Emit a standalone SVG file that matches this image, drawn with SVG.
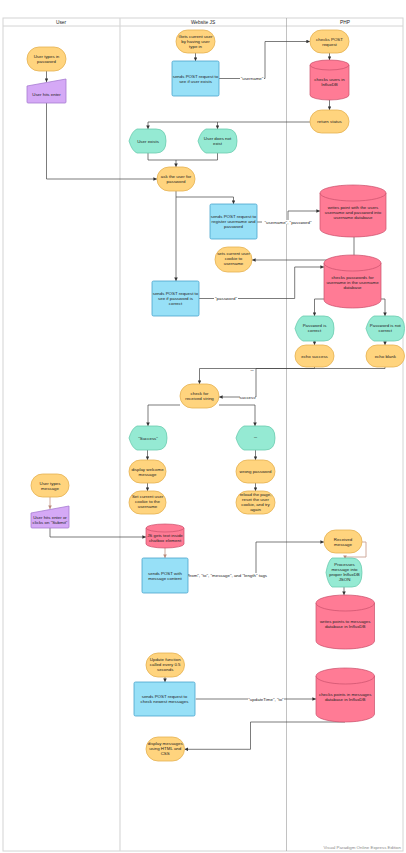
<svg xmlns="http://www.w3.org/2000/svg" width="406" height="853" viewBox="0 0 406 853">
<style>
text{font-family:"Liberation Sans",Arial,sans-serif;font-size:4.4px;fill:#222;text-anchor:middle}
.hd{font-size:4.8px}
.term{fill:#FFD47E;stroke:#E5B152;stroke-width:0.8}
.proc{fill:#97E0F7;stroke:#4AA3CC;stroke-width:0.8}
.cyl{fill:#FF7B95;stroke:#C9506B;stroke-width:0.7}
.disp{fill:#95EAD3;stroke:#6BCBAF;stroke-width:0.8}
.man{fill:#D5A9F6;stroke:#A77CD2;stroke-width:0.8}
.c{fill:none;stroke:#444;stroke-width:0.7}
.b{fill:none;stroke:#C9A092;stroke-width:0.9}
.lbl{fill:#fff}
.ft{font-size:4.4px;fill:#888;text-anchor:end}
</style>
<defs>
<marker id="ah" viewBox="0 0 6 6" refX="6" refY="3" markerWidth="3.6" markerHeight="3.6" markerUnits="userSpaceOnUse" orient="auto"><path d="M0,0 L6,3 L0,6 Z" fill="#333"/></marker>
<marker id="ahb" viewBox="0 0 6 6" refX="6" refY="3" markerWidth="3.6" markerHeight="3.6" markerUnits="userSpaceOnUse" orient="auto"><path d="M0,0 L6,3 L0,6 Z" fill="#B98878"/></marker>
</defs>
<rect width="406" height="853" fill="#fff"/>
<g id="swimlanes">
<rect x="3" y="18" width="400" height="833" fill="none" stroke="#D4D4D4" stroke-width="1"/>
<line x1="3" y1="26" x2="403" y2="26" stroke="#D4D4D4" stroke-width="1"/>
<line x1="120" y1="18" x2="120" y2="851" stroke="#D8D8D8" stroke-width="1.2"/>
<line x1="286.5" y1="18" x2="286.5" y2="851" stroke="#999" stroke-width="0.6"/>
<text class="hd" x="61" y="24">User</text>
<text class="hd" x="203" y="24">Website JS</text>
<text class="hd" x="345" y="24">PHP</text>
</g>
<g id="connectors">
<path class="c" d="M46.5,71 V82" marker-end="url(#ah)"/>
<path class="c" d="M46.5,103 V179 H157" marker-end="url(#ah)"/>
<path class="c" d="M195.5,53 V61" marker-end="url(#ah)"/>
<path class="c" d="M219,78.5 H265 V41.5 H310" marker-end="url(#ah)"/>
<rect class="lbl" x="240" y="76.5" width="24" height="4"/>
<text x="252" y="80">"username"</text>
<path class="c" d="M329.5,53 V60" marker-end="url(#ah)"/>
<path class="c" d="M329.5,100 V110" marker-end="url(#ah)"/>
<path class="c" d="M310,122 H148 V129" marker-end="url(#ah)"/>
<path class="c" d="M217.5,122 V129" marker-end="url(#ah)"/>
<path class="c" d="M148,153 V160 H176 V167" marker-end="url(#ah)"/>
<path class="c" d="M217.5,153 V160 H176"/>
<path class="c" d="M176,191 V281" marker-end="url(#ah)"/>
<path class="c" d="M176,197 H233.5 V204" marker-end="url(#ah)"/>
<path class="c" d="M257,222 H288 V211 H320" marker-end="url(#ah)"/>
<rect class="lbl" x="262" y="220" width="52" height="4"/>
<text x="288" y="223.6">"username", "password"</text>
<path class="c" d="M354,237 V260 H252" marker-end="url(#ah)"/>
<path class="c" d="M199,298.5 H294.7 V267 H324" marker-end="url(#ah)"/>
<rect class="lbl" x="214" y="296" width="24" height="4"/>
<text x="226" y="299.5">"password"</text>
<path class="c" d="M324,299 H314.5 V316" marker-end="url(#ah)"/>
<path class="c" d="M381,299 H385 V316" marker-end="url(#ah)"/>
<path class="c" d="M314.5,341 V345" marker-end="url(#ah)"/>
<path class="c" d="M385,341 V345" marker-end="url(#ah)"/>
<path class="c" d="M385,367 V368.5 H199.5 V384" marker-end="url(#ah)"/>
<text x="252" y="372.5">""</text>
<path class="c" d="M314.5,367 V368.5 H256 V397 H219" marker-end="url(#ah)"/>
<rect class="lbl" x="240" y="395" width="15" height="4"/>
<text x="247.5" y="398.5">success</text>
<path class="c" d="M180,405 H148 V426" marker-end="url(#ah)"/>
<path class="c" d="M219,405 H255 V426" marker-end="url(#ah)"/>
<path class="c" d="M147.5,450 V460" marker-end="url(#ah)"/>
<path class="c" d="M147.5,483 V491" marker-end="url(#ah)"/>
<path class="c" d="M255.5,450 V460" marker-end="url(#ah)"/>
<path class="c" d="M255.5,483 V491" marker-end="url(#ah)"/>
<path class="b" d="M50,497 V509" marker-end="url(#ahb)"/>
<path class="c" d="M50,528 V537 H146" marker-end="url(#ah)"/>
<path class="b" d="M165,548 V558" marker-end="url(#ahb)"/>
<path class="c" d="M188,575 H256 V542 H324" marker-end="url(#ah)"/>
<rect class="lbl" x="189" y="573" width="76" height="4"/>
<text x="227" y="576.5">"from", "to", "message", and "length" tags</text>
<path class="b" d="M362,542 H366 V557 H345 V559" marker-end="url(#ahb)"/>
<path class="c" d="M344,587 V595" marker-end="url(#ah)"/>
<path class="c" d="M165,677 V682" marker-end="url(#ah)"/>
<path class="c" d="M195.7,699 H316" marker-end="url(#ah)"/>
<rect class="lbl" x="248" y="697" width="36" height="4"/>
<text x="266" y="700.5">"updateTime", "to"</text>
<path class="c" d="M345,722 H250.5 V749.3 H184.5" marker-end="url(#ah)"/>
</g>
<g id="user-types-password"><rect class="term" x="27" y="47" width="39" height="24" rx="12"/><text x="46.5" y="58">User types in</text><text x="46.5" y="63">password</text></g>
<g id="user-hits-enter"><path class="man" d="M27,86 L66,79 V102 Q66,103 65,103 H28 Q27,103 27,102 Z"/><text x="46.5" y="95.5">User hits enter</text></g>
<g id="gets-current-user"><rect class="term" x="176" y="30" width="39" height="23" rx="11.5"/><text x="195.5" y="37.5">Gets current user</text><text x="195.5" y="42.5">by having user</text><text x="195.5" y="47.5">type in</text></g>
<g id="post-user-exists"><rect class="proc" x="172" y="61" width="47" height="35" rx="1.5"/><text x="195.5" y="77.5">sends POST request to</text><text x="195.5" y="82.5">see if user exists</text></g>
<g id="checks-post"><rect class="term" x="310" y="30" width="39" height="23" rx="11.5"/><text x="329.5" y="40.5">checks POST</text><text x="329.5" y="45.5">request</text></g>
<g id="checks-users"><path class="cyl" d="M310,65 A19.5,5 0 0 1 349,65 V95 A19.5,5 0 0 1 310,95 Z"/><path class="cyl" d="M310,65 A19.5,5 0 0 0 349,65" fill="none"/><text x="329.5" y="81">checks users in</text><text x="329.5" y="86">InfluxDB</text></g>
<g id="return-status"><rect class="term" x="310" y="110" width="39" height="23" rx="11.5"/><text x="329.5" y="123">return status</text></g>
<g id="user-exists"><path class="disp" d="M137,129 H156 Q166,129 166,141 Q166,153 156,153 H137 Q132,151 129,141 Q132,131 137,129 Z"/><text x="148" y="142.5">User exists</text></g>
<g id="user-not-exist"><path class="disp" d="M206,129 H227 Q237,129 237,141 Q237,153 227,153 H206 Q201,151 198,141 Q201,131 206,129 Z"/><text x="217.5" y="140">User does not</text><text x="217.5" y="145">exist</text></g>
<g id="ask-password"><rect class="term" x="157" y="167" width="38" height="24" rx="12"/><text x="176" y="178">ask the user for</text><text x="176" y="183">password</text></g>
<g id="post-register"><rect class="proc" x="210" y="204" width="47" height="35" rx="1.5"/><text x="233.5" y="218">sends POST request to</text><text x="233.5" y="223">register username and</text><text x="233.5" y="228">password</text></g>
<g id="writes-point"><path class="cyl" d="M320,193 A33,8 0 0 1 386,193 V229 A33,8 0 0 1 320,229 Z"/><path class="cyl" d="M320,193 A33,8 0 0 0 386,193" fill="none"/><text x="353" y="208.5">writes point with the users</text><text x="353" y="213.5">username and password into</text><text x="353" y="218.5">username database</text></g>
<g id="sets-cookie"><rect class="term" x="215" y="247" width="37" height="25" rx="12.5"/><text x="233.5" y="255">sets current user</text><text x="233.5" y="260">cookie to</text><text x="233.5" y="265">username</text></g>
<g id="checks-passwords"><path class="cyl" d="M324,263 A28.5,8 0 0 1 381,263 V300 A28.5,8 0 0 1 324,300 Z"/><path class="cyl" d="M324,263 A28.5,8 0 0 0 381,263" fill="none"/><text x="352.5" y="279">checks passwords for</text><text x="352.5" y="284">username in the username</text><text x="352.5" y="289">database</text></g>
<g id="post-password"><rect class="proc" x="152" y="281" width="47" height="35" rx="1.5"/><text x="175.5" y="295">sends POST request to</text><text x="175.5" y="300">see if password is</text><text x="175.5" y="305">correct</text></g>
<g id="password-correct"><path class="disp" d="M303,316 H324 Q334,316 334,328.5 Q334,341 324,341 H303 Q298,339 295,328.5 Q298,318 303,316 Z"/><text x="314.5" y="327">Password is</text><text x="314.5" y="332">correct</text></g>
<g id="password-not-correct"><path class="disp" d="M374,316 H394.5 Q404.5,316 404.5,328.5 Q404.5,341 394.5,341 H374 Q369,339 366,328.5 Q369,318 374,316 Z"/><text x="385.3" y="327">Password is not</text><text x="385.3" y="332">correct</text></g>
<g id="echo-success"><rect class="term" x="295" y="345" width="39" height="22" rx="11"/><text x="314.5" y="357.5">echo success</text></g>
<g id="echo-blank"><rect class="term" x="366" y="345" width="38.5" height="22" rx="11"/><text x="385.3" y="357.5">echo blank</text></g>
<g id="check-string"><rect class="term" x="180" y="384" width="39" height="24" rx="12"/><text x="199.5" y="395">check for</text><text x="199.5" y="400">received string</text></g>
<g id="success-display"><path class="disp" d="M137,426 H157 Q167,426 167,438 Q167,450 157,450 H137 Q132,448 129,438 Q132,428 137,426 Z"/><text x="148" y="439.5">"Success"</text></g>
<g id="empty-display"><path class="disp" d="M244,426 H265 Q275,426 275,438 Q275,450 265,450 H244 Q239,448 236,438 Q239,428 244,426 Z"/><text x="255.5" y="439.5">""</text></g>
<g id="display-welcome"><rect class="term" x="129" y="460" width="37" height="23" rx="11.5"/><text x="147.5" y="470.5">display welcome</text><text x="147.5" y="475.5">message</text></g>
<g id="set-cookie"><rect class="term" x="129" y="491" width="37" height="23" rx="11.5"/><text x="147.5" y="498">Set current user</text><text x="147.5" y="503">cookie to the</text><text x="147.5" y="508">username</text></g>
<g id="wrong-password"><rect class="term" x="236" y="460" width="39" height="23" rx="11.5"/><text x="255.5" y="473">wrong password</text></g>
<g id="reload-page"><rect class="term" x="236" y="491" width="39" height="23" rx="11.5"/><text x="255.5" y="496">reload the page,</text><text x="255.5" y="501">reset the user</text><text x="255.5" y="506">cookie, and try</text><text x="255.5" y="511">again</text></g>
<g id="user-types-message"><rect class="term" x="31" y="474" width="38" height="23" rx="11.5"/><text x="50" y="484.5">User types</text><text x="50" y="489.5">message</text></g>
<g id="user-hits-submit"><path class="man" d="M31,513 L69,506 V527 Q69,528 68,528 H32 Q31,528 31,527 Z"/><text x="50" y="518.5">User hits enter or</text><text x="50" y="523.5">clicks on "Submit"</text></g>
<g id="js-gets-text"><path class="cyl" d="M146,528 A19,4 0 0 1 184,528 V544 A19,4 0 0 1 146,544 Z"/><path class="cyl" d="M146,528 A19,4 0 0 0 184,528" fill="none"/><text x="165" y="537">JS gets text inside</text><text x="165" y="542">chatbox element</text></g>
<g id="post-message"><rect class="proc" x="142" y="558" width="46" height="35" rx="1.5"/><text x="165" y="574.5">sends POST with</text><text x="165" y="579.5">message content</text></g>
<g id="received-message"><rect class="term" x="324" y="530" width="38" height="23" rx="11.5"/><text x="343" y="540.5">Received</text><text x="343" y="545.5">message</text></g>
<g id="processes-message"><path class="disp" d="M332,558 H352 Q362,558 362,572.5 Q362,587 352,587 H332 Q328,584 326,572.5 Q328,561 332,558 Z"/><text x="344.5" y="566">Processes</text><text x="344.5" y="571">message into</text><text x="344.5" y="576">proper InfluxDB</text><text x="344.5" y="581">JSON</text></g>
<g id="writes-messages"><path class="cyl" d="M316,603 A29.25,8 0 0 1 374.5,603 V641 A29.25,8 0 0 1 316,641 Z"/><path class="cyl" d="M316,603 A29.25,8 0 0 0 374.5,603" fill="none"/><text x="345.2" y="623">writes points to messages</text><text x="345.2" y="628">database in InfluxDB</text></g>
<g id="update-function"><rect class="term" x="146" y="653" width="38.5" height="24" rx="12"/><text x="165.2" y="661">Update function</text><text x="165.2" y="666">called every 0.5</text><text x="165.2" y="671">seconds</text></g>
<g id="post-newest"><rect class="proc" x="134" y="682" width="61" height="34" rx="1.5"/><text x="164.5" y="698">sends POST request to</text><text x="164.5" y="703">check newest messages</text></g>
<g id="checks-messages"><path class="cyl" d="M316,676 A29.25,8 0 0 1 374.5,676 V714 A29.25,8 0 0 1 316,714 Z"/><path class="cyl" d="M316,676 A29.25,8 0 0 0 374.5,676" fill="none"/><text x="345.2" y="696">checks points in messages</text><text x="345.2" y="701">database in InfluxDB</text></g>
<g id="display-messages"><rect class="term" x="146" y="737" width="38.5" height="24" rx="12"/><text x="165.2" y="745">display messages</text><text x="165.2" y="750">using HTML and</text><text x="165.2" y="755">CSS</text></g>
<text class="ft" x="401" y="849">Visual Paradigm Online Express Edition</text>
</svg>
